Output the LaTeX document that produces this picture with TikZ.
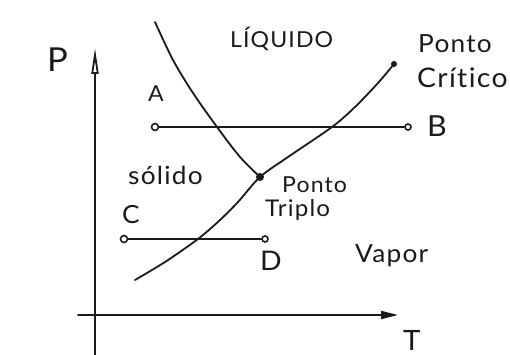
\documentclass[tikz,border=0pt]{standalone}
\usepackage{fontspec}
\setmainfont{Lato}[FakeStretch=1.05,LetterSpace=5,Ligatures={NoCommon,NoDiscretionary,NoRare,NoContextual}]
\usetikzlibrary{arrows.meta}
\definecolor{ink}{HTML}{1A1A1A}
\tikzset{
  ink line/.style={draw=ink, line width=1.8pt, line cap=round},
  hand/.style={text=ink, inner sep=0pt, anchor=base west},
  endpt/.style={circle, draw=ink, line width=1.6pt, fill=white, inner sep=0pt, minimum size=7pt},
  dotpt/.style={circle, fill=ink, inner sep=0pt, minimum size=#1},
}
\newcommand{\fs}[1]{\fontsize{#1}{#1}\selectfont}
\begin{document}
\begin{tikzpicture}[x=1pt,y=-1pt]
\useasboundingbox (0,0) rectangle (510,355);
\fill[white] (0,0) rectangle (510,355);
% axes
\coordinate (ybot) at (95,355);
\coordinate (ytop) at (95,48);
\coordinate (xleft) at (78,315);
\coordinate (xright) at (398,315);
\draw[ink line, -{Triangle[open,length=26pt,width=7pt]}] (ybot) -- (ytop);
\draw[ink line, -{Triangle[length=17pt,width=8pt]}] (xleft) -- (xright);
% curve points
\coordinate (m0) at (155,22);
\coordinate (m1) at (173,60);
\coordinate (m2) at (193,93);
\coordinate (m3) at (217,127);
\coordinate (m4) at (240,157);
\coordinate (tp) at (260,177);
\coordinate (v0) at (135,280);
\coordinate (v1) at (165,262);
\coordinate (v2) at (198,239);
\coordinate (v3) at (220,220);
\coordinate (v4) at (238,202);
\coordinate (u1) at (288,157);
\coordinate (u2) at (332,127);
\coordinate (u3) at (355,107);
\coordinate (u4) at (378,83);
\coordinate (cp) at (394,64);
\draw[ink line] plot[smooth] coordinates {(m0) (m1) (m2) (m3) (m4) (tp)};
\draw[ink line] plot[smooth] coordinates {(v0) (v1) (v2) (v3) (v4) (tp) (u1) (u2) (u3) (u4) (cp)};
\node[dotpt=8pt] (triple) at (tp) {};
\node[dotpt=6pt] (critical) at (cp) {};
% isobars
\node[endpt] (A) at (155,127) {};
\node[endpt, minimum size=6pt] (B) at (408,127) {};
\node[endpt] (C) at (124,239) {};
\node[endpt, minimum size=6pt] (D) at (265,239) {};
\draw[ink line] (A) -- (B);
\draw[ink line] (C) -- (D);
% labels
\node[hand] (lP) at (47,72) {\fs{33}P};
\node[hand] (lT) at (403,350) {\fs{28}T};
\node[hand] (lA) at (148,102) {\fs{22}A};
\node[hand] (lB) at (427,137) {\fs{29}B};
\node[hand] (lC) at (122,223) {\fs{25}C};
\node[hand] (lD) at (260,270) {\fs{27}D};
\node[hand] (liq) at (230,48) {\fs{22}LÍQUIDO};
\node[hand] (pc1) at (418,53) {\fs{25}Ponto};
\node[hand] (pc2) at (417,88) {\fs{27}Crítico};
\node[hand] (sol) at (128,185) {\fs{25}sólido};
\node[hand] (pt1) at (282,192) {\fs{22}Ponto};
\node[hand] (pt2) at (265,216) {\fs{23}Triplo};
\node[hand] (vap) at (355,262) {\fs{25}Vapor};
\end{tikzpicture}
\end{document}
